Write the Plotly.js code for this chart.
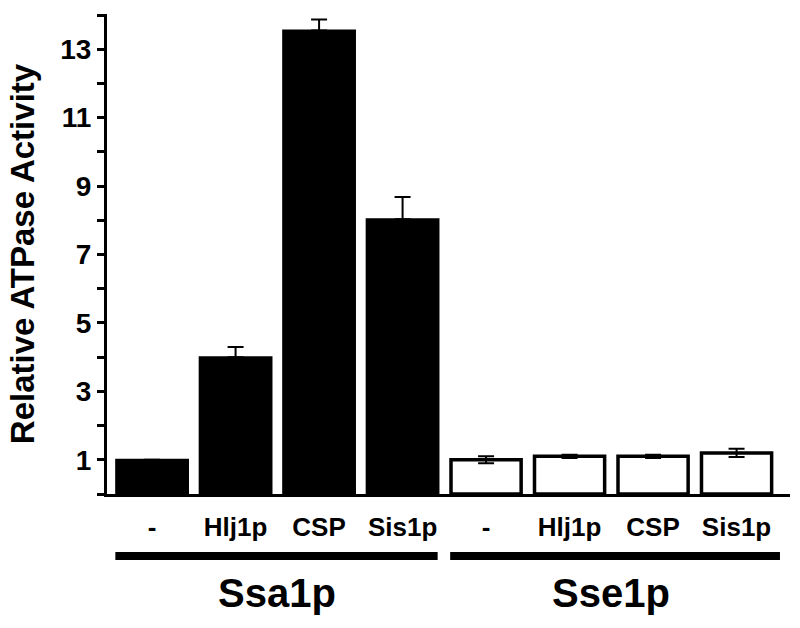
<!DOCTYPE html>
<html><head><meta charset="utf-8">
<script src="https://cdn.plot.ly/plotly-3.0.1.min.js"></script>
<style>body{margin:0;background:#fff}#chart{width:800px;height:628px}</style>
</head><body><div id="chart"></div>
<script>
const categories = ["-", "Hlj1p", "CSP", "Sis1p", "-", "Hlj1p", "CSP", "Sis1p"];
const groups = ["Ssa1p", "Sse1p"];
const ssa1pValues = [1.0, 4.0, 13.55, 8.03];
const ssa1pErrors = [0.0, 0.3, 0.32, 0.65];
const sse1pValues = [1.0, 1.1, 1.1, 1.2];
const sse1pErrors = [0.1, 0.05, 0.05, 0.12];
const yTickVals = [1, 3, 5, 7, 9, 11, 13];

const idx = categories.map((c, i) => i);
const F = "Liberation Sans, Arial, sans-serif";

const traces = [
  {
    type: "bar", x: idx.slice(0, 4), y: ssa1pValues, width: 0.86,
    marker: {color: "#000", line: {color: "#000", width: 2}},
    error_y: {type: "data", array: ssa1pErrors, arrayminus: ssa1pErrors.map(() => 0), symmetric: false, color: "#000", thickness: 2, width: 8},
    hoverinfo: "skip"
  },
  {
    type: "bar", x: idx.slice(4), y: sse1pValues, width: 0.84,
    marker: {color: "#fff", line: {color: "#000", width: 3.5}},
    error_y: {type: "data", array: sse1pErrors, color: "#000", thickness: 2, width: 8},
    hoverinfo: "skip"
  }
];

const layout = {
  width: 800, height: 628,
  margin: {l: 107, r: 10, t: 14, b: 134},
  paper_bgcolor: "#fff", plot_bgcolor: "#fff",
  showlegend: false,
  bargap: 0,
  font: {family: F, color: "#000"},
  xaxis: {
    range: [-0.54, 7.64], tickvals: idx, ticktext: categories,
    showgrid: false, zeroline: false, showline: true, linecolor: "#000", linewidth: 3,
    ticks: "", ticklabelstandoff: 8,
    tickfont: {family: F, size: 26, weight: "bold", color: "#000"}
  },
  yaxis: {
    range: [0, 14.03], tickvals: yTickVals,
    showgrid: false, zeroline: false, showline: true, linecolor: "#000", linewidth: 3,
    ticks: "outside", ticklen: 7, tickwidth: 3, tickcolor: "#000",
    minor: {tickvals: [0, 2, 4, 6, 8, 10, 12, 14], ticks: "outside", ticklen: 7, tickwidth: 3, tickcolor: "#000"},
    tickfont: {family: F, size: 28, weight: "bold", color: "#000"},
    title: {text: "Relative ATPase Activity", font: {family: F, size: 33, weight: "bold", color: "#000"}, standoff: 16}
  },
  shapes: [
    {type: "line", xref: "x", yref: "paper", x0: -0.44, x1: 3.42, y0: -0.129, y1: -0.129, line: {color: "#000", width: 8}},
    {type: "line", xref: "x", yref: "paper", x0: 3.57, x1: 7.52, y0: -0.129, y1: -0.129, line: {color: "#000", width: 8}},
    {type: "line", xref: "paper", yref: "y", x0: 0, x1: 0, y0: 0, y1: -0.15, line: {color: "#000", width: 3}},
    {type: "line", xref: "paper", yref: "y", x0: 1, x1: 1, y0: 0, y1: -0.2, line: {color: "#000", width: 3}}
  ],
  annotations: [
    {xref: "x", yref: "paper", x: 1.5, y: -0.206, yanchor: "middle", text: groups[0], showarrow: false, font: {family: F, size: 40, weight: "bold", color: "#000"}},
    {xref: "x", yref: "paper", x: 5.5, y: -0.206, yanchor: "middle", text: groups[1], showarrow: false, font: {family: F, size: 40, weight: "bold", color: "#000"}}
  ]
};

Plotly.newPlot("chart", traces, layout, {displayModeBar: false, staticPlot: true});
</script></body></html>
